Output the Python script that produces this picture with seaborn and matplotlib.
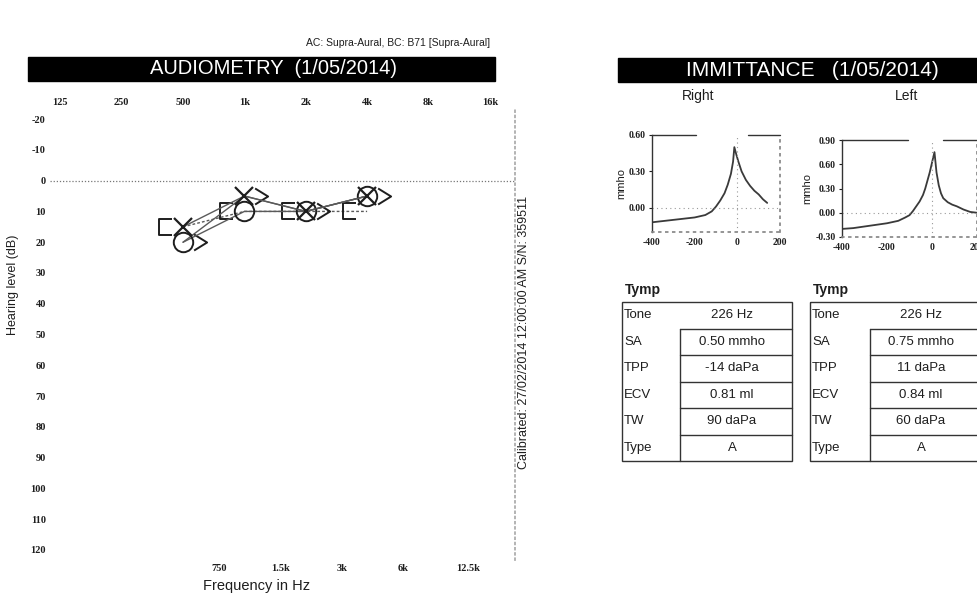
import matplotlib
matplotlib.use("Agg")
import numpy as np
import pandas as pd
import matplotlib.pyplot as plt
import seaborn as sns
from matplotlib.path import Path
from matplotlib.patches import Rectangle
from matplotlib.ticker import NullLocator

# ---- audiogram data (dB HL) ----
freqs = [500, 1000, 2000, 4000]
right_ac = [20, 10, 10, 5]      # O
left_ac = [15, 5, 10, 5]        # X
right_bc = [15, 10, 10, 10]     # [
left_bc = [20, 5, 10, 5]        # >

top_freqs = [125, 250, 500, 1000, 2000, 4000, 8000, 16000]
top_labels = ['125', '250', '500', '1k', '2k', '4k', '8k', '16k']
mid_freqs = [750, 1500, 3000, 6000, 12500]
mid_labels = ['750', '1.5k', '3k', '6k', '12.5k']
db_ticks = list(range(-20, 130, 10))

# ---- tympanograms (daPa vs mmho) ----
right_pressure = [-400, -350, -300, -250, -200, -150, -120, -100, -80, -60, -45, -30,
                  -20, -14, -5, 5, 20, 40, 60, 80, 100, 120, 140]
right_mmho = [-0.12, -0.11, -0.10, -0.09, -0.08, -0.06, -0.03, 0.01, 0.06, 0.12, 0.19, 0.28,
              0.38, 0.50, 0.44, 0.38, 0.30, 0.23, 0.18, 0.14, 0.11, 0.07, 0.04]
left_pressure = [-400, -350, -300, -250, -200, -150, -120, -100, -85, -70, -55, -40, -30,
                 -20, -10, 0, 11, 20, 30, 40, 50, 70, 90, 110, 140, 170, 200]
left_mmho = [-0.20, -0.19, -0.17, -0.15, -0.13, -0.10, -0.06, -0.03, 0.02, 0.08, 0.14, 0.22, 0.30,
             0.40, 0.50, 0.62, 0.75, 0.50, 0.34, 0.24, 0.18, 0.13, 0.10, 0.08, 0.04, 0.01, 0.00]

table_rows = ['Tone', 'SA', 'TPP', 'ECV', 'TW', 'Type']
right_values = ['226 Hz', '0.50 mmho', '-14 daPa', '0.81 ml', '90 daPa', 'A']
left_values = ['226 Hz', '0.75 mmho', '11 daPa', '0.84 ml', '60 daPa', 'A']

sns.set_theme(style="white")
plt.rcParams['font.family'] = ['Liberation Sans', 'DejaVu Sans']
INK = '#1e1e1e'
SERIF = ['Liberation Serif', 'DejaVu Serif']

W, H = 978, 596
fig = plt.figure(figsize=(W / 100, H / 100), dpi=100)


def box(x0, y0, x1, y1):
    return [x0 / W, 1 - y1 / H, (x1 - x0) / W, (y1 - y0) / H]


# overlay in pixel coordinates for headers and tables
ov = fig.add_axes([0, 0, 1, 1], zorder=0)
ov.set_xlim(0, W)
ov.set_ylim(H, 0)
ov.axis('off')

ov.text(490, 43, 'AC: Supra-Aural, BC: B71 [Supra-Aural]', ha='right', va='center',
        fontsize=7.5, color=INK)
ov.add_patch(Rectangle((28, 57), 467, 24, color='black'))
ov.text(274, 69, 'AUDIOMETRY  (1/05/2014)', ha='center', va='center', fontsize=14.5, color='white')
ov.add_patch(Rectangle((618, 58), 370, 24, color='black'))
ov.text(812, 70, 'IMMITTANCE   (1/05/2014)', ha='center', va='center', fontsize=15,
        color='white')
ov.text(698, 96, 'Right', ha='center', va='center', fontsize=10, color=INK)
ov.text(907, 96, 'Left', ha='center', va='center', fontsize=10, color=INK)
ov.text(13, 285, 'Hearing level (dB)', rotation=90, ha='center', va='center', fontsize=9, color=INK)
ov.text(257, 586, 'Frequency in Hz', ha='center', va='center', fontsize=10.5, color=INK)
ov.text(524, 332, 'Calibrated: 27/02/2014 12:00:00 AM S/N: 359511', rotation=90,
        ha='center', va='center', fontsize=9, color=INK)

# ---- audiogram ----
ax = fig.add_axes(box(50, 108, 515, 560))
ax.set_xscale('log', base=2)
ax.set_xlim(111.2, 21268)
ax.set_ylim(123.25, -23.6)

# custom symbols drawn beside the frequency (masked bone conduction)
bracket = Path([(-0.45, 0.32), (-1.0, 0.32), (-1.0, -0.32), (-0.45, -0.32)])
chevron = Path([(0.45, 0.34), (1.0, 0.0), (0.45, -0.34)])

line_kw = dict(color='#5a5a5a', lw=1.0, markerfacecolor='none', markeredgecolor=INK)
sns.lineplot(x=freqs, y=right_bc, ax=ax, marker=bracket, markersize=34, markeredgewidth=1.4,
             ls=(0, (2, 1.5)), **line_kw)
sns.lineplot(x=freqs, y=left_bc, ax=ax, marker=chevron, markersize=34, markeredgewidth=1.4,
             **line_kw)
sns.lineplot(x=freqs, y=right_ac, ax=ax, marker='o', markersize=14, markeredgewidth=1.4, **line_kw)
sns.lineplot(x=freqs, y=left_ac, ax=ax, marker='x', markersize=13, markeredgewidth=1.6, **line_kw)

ax.axhline(0, color='#777', lw=0.9, ls=(0, (1, 1.5)), zorder=0)
ax.xaxis.tick_top()
ax.set_xticks(top_freqs, top_labels)
ax.xaxis.set_minor_locator(NullLocator())
ax.set_yticks(db_ticks, [str(v) for v in db_ticks])
ax.tick_params(axis='x', length=0, pad=1, labelsize=7.5, labelcolor=INK)
ax.tick_params(axis='y', length=0, pad=3, labelsize=7.5, labelcolor=INK)
for lbl in ax.get_xticklabels() + ax.get_yticklabels():
    lbl.set_family(SERIF)
    lbl.set_fontweight('bold')
sec = ax.secondary_xaxis('bottom')
sec.set_xticks(mid_freqs, mid_labels)
sec.xaxis.set_minor_locator(NullLocator())
sec.tick_params(length=0, pad=3, labelsize=7.5, labelcolor=INK)
for lbl in sec.get_xticklabels():
    lbl.set_family(SERIF)
    lbl.set_fontweight('bold')
sec.spines['bottom'].set_visible(False)
for s in ['top', 'left', 'bottom']:
    ax.spines[s].set_visible(False)
ax.spines['right'].set_linestyle((0, (1, 2)))
ax.spines['right'].set_color('#aaa')
ax.set_xlabel('')
ax.set_ylabel('')


# ---- tympanograms ----
def tymp(rect, p, v, ylim, yticks, top_gap):
    t = fig.add_axes(box(*rect))
    sns.lineplot(x=p, y=v, ax=t, color='#3a3a3a', lw=1.3)
    t.set_xlim(-400, 200)
    t.set_ylim(*ylim)
    t.set_xticks([-400, -200, 0, 200], ['-400', '-200', '0', '200'])
    t.set_yticks(yticks, [f'{y:.2f}' for y in yticks])
    t.tick_params(axis='both', length=2.5, width=0.8, pad=2, labelsize=7,
                  labelcolor=INK, color=INK, direction='out', left=True, bottom=False)
    for lbl in t.get_xticklabels() + t.get_yticklabels():
        lbl.set_family(SERIF)
        lbl.set_fontweight('bold')
    t.spines['top'].set_visible(False)
    t.spines['left'].set_color('#333')
    t.spines['left'].set_linewidth(1.0)
    for s in ['right', 'bottom']:
        t.spines[s].set_linestyle((0, (1, 3)))
        t.spines[s].set_color('#888')
    t.plot([0, top_gap[0]], [1, 1], transform=t.transAxes, color='#333', lw=1.0, clip_on=False)
    t.plot([top_gap[1], 1], [1, 1], transform=t.transAxes, color='#333', lw=1.0, clip_on=False)
    t.axvline(0, color='#999', lw=0.8, ls=(0, (1, 3)))
    t.axhline(0, color='#999', lw=0.8, ls=(0, (1, 3)))
    t.set_ylabel('mmho', fontsize=8, color=INK, labelpad=2)
    t.set_xlabel('')
    t.set_facecolor('none')
    return t


tymp((652, 135, 780, 232), right_pressure, right_mmho, (-0.2, 0.6), [0.0, 0.3, 0.6], (0.34, 0.75))
tymp((842, 140, 977, 237), left_pressure, left_mmho, (-0.3, 0.9), [-0.3, 0.0, 0.3, 0.6, 0.9],
     (0.49, 0.75))


# ---- tymp tables ----
def table(x0, xdiv, x1, values):
    y0, y1 = 302, 461
    rh = (y1 - y0) / len(table_rows)
    ov.text(x0 + 3, 290, 'Tymp', ha='left', va='center', fontsize=10, fontweight='bold', color=INK)
    ov.add_patch(Rectangle((x0, y0), x1 - x0, y1 - y0, fill=False, ec='#333', lw=1.0))
    ov.plot([xdiv, xdiv], [y0 + rh, y1], color='#333', lw=1.0)
    for i, (name, val) in enumerate(zip(table_rows, values)):
        yc = y0 + rh * (i + 0.5)
        if i > 0:
            ov.plot([xdiv, x1], [y0 + rh * i, y0 + rh * i], color='#333', lw=1.0)
        ov.text(x0 + 2, yc, name, ha='left', va='center', fontsize=9.5, color=INK)
        ov.text((xdiv + x1) / 2 - 4, yc, val, ha='center', va='center', fontsize=9.5, color=INK)


table(622, 680, 792, right_values)
table(810, 870, 980, left_values)

fig.savefig('out.png', dpi=100, facecolor='white')
